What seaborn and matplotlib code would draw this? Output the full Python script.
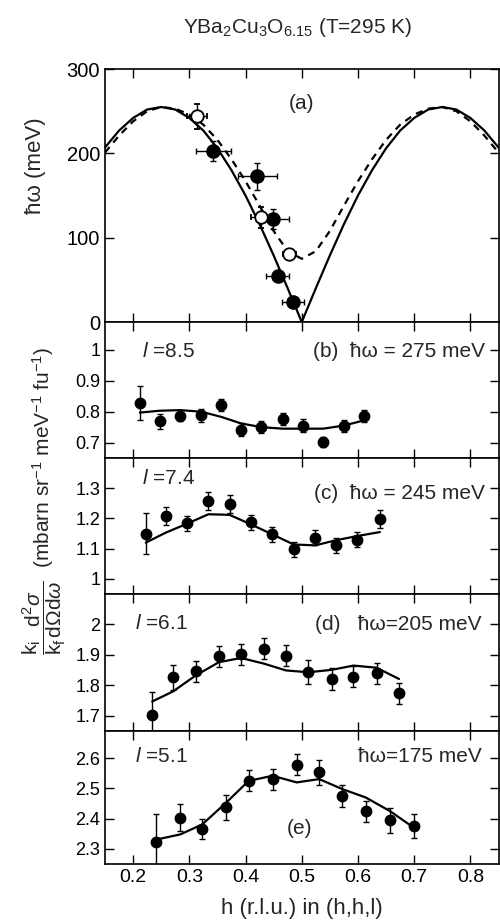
import matplotlib
matplotlib.use('Agg')
import matplotlib.pyplot as plt
import seaborn as sns
import pandas as pd

# --- panel (a): dispersion ---
a_curve_h = [0.150, 0.175, 0.200, 0.225, 0.250, 0.275, 0.300, 0.325, 0.350, 0.375,
             0.400, 0.425, 0.450, 0.475, 0.500, 0.525, 0.550, 0.575, 0.600, 0.625,
             0.650, 0.675, 0.700, 0.725, 0.750, 0.775, 0.800, 0.825, 0.850]
a_solid_E = [207, 227, 242, 252, 255, 252, 242, 227, 206, 180,
             150, 116, 79, 40, 0, 40, 79, 116, 150, 180,
             206, 227, 242, 252, 255, 252, 242, 227, 207]
a_dashed_E = [201, 221, 238, 250, 255, 253, 246, 234, 216, 193,
              167, 138, 108, 84, 75, 84, 108, 138, 167, 193,
              216, 234, 246, 253, 255, 250, 238, 221, 201]

a_filled_h = [0.343, 0.421, 0.448, 0.457, 0.484]
a_filled_E = [203, 173, 122, 55, 24]
a_filled_herr = [0.031, 0.035, 0.030, 0.020, 0.020]
a_filled_Eerr = [12, 16, 12, 5, 4]
a_open_h = [0.313, 0.428, 0.478]
a_open_E = [244, 124, 81]
a_open_herr = [0.018, 0.018, 0.012]
a_open_Eerr = [15, 12, 4]

# --- panels (b)-(e): constant energy scans ---
b_h = [0.212, 0.247, 0.284, 0.321, 0.357, 0.392, 0.428, 0.466, 0.503, 0.538, 0.575, 0.611]
b_v = [0.828, 0.769, 0.787, 0.788, 0.822, 0.742, 0.751, 0.776, 0.755, 0.702, 0.753, 0.785]
b_err = [0.055, 0.025, 0.018, 0.020, 0.020, 0.020, 0.020, 0.020, 0.020, 0.015, 0.020, 0.020]
b_fit = [0.797, 0.803, 0.805, 0.800, 0.783, 0.762, 0.750, 0.745, 0.745, 0.745, 0.755, 0.772]

c_h = [0.2225, 0.258, 0.295, 0.334, 0.3715, 0.409, 0.447, 0.4855, 0.524, 0.561, 0.599, 0.639]
c_v = [1.150, 1.207, 1.184, 1.259, 1.248, 1.187, 1.148, 1.098, 1.137, 1.111, 1.129, 1.198]
c_err = [0.068, 0.030, 0.025, 0.030, 0.030, 0.025, 0.025, 0.025, 0.025, 0.025, 0.025, 0.030]
c_fit = [1.120, 1.153, 1.182, 1.214, 1.212, 1.181, 1.148, 1.114, 1.111, 1.128, 1.142, 1.155]

d_h = [0.234, 0.271, 0.311, 0.3525, 0.392, 0.4335, 0.472, 0.512, 0.5535, 0.592, 0.633, 0.673]
d_v = [1.703, 1.826, 1.846, 1.895, 1.902, 1.920, 1.898, 1.843, 1.821, 1.829, 1.840, 1.774]
d_err = [0.075, 0.040, 0.035, 0.035, 0.035, 0.035, 0.035, 0.040, 0.035, 0.035, 0.035, 0.035]
d_fit = [1.747, 1.780, 1.832, 1.876, 1.890, 1.871, 1.849, 1.843, 1.851, 1.865, 1.858, 1.821]

e_h = [0.2415, 0.284, 0.323, 0.3655, 0.4055, 0.448, 0.491, 0.531, 0.572, 0.614, 0.657, 0.6995]
e_v = [2.322, 2.403, 2.367, 2.437, 2.525, 2.531, 2.578, 2.553, 2.475, 2.425, 2.394, 2.375]
e_err = [0.093, 0.045, 0.033, 0.040, 0.035, 0.035, 0.035, 0.040, 0.035, 0.035, 0.040, 0.040]
e_fit = [2.331, 2.348, 2.381, 2.453, 2.525, 2.542, 2.520, 2.531, 2.498, 2.470, 2.425, 2.370]

x_ticks = [0.2, 0.3, 0.4, 0.5, 0.6, 0.7, 0.8]
x_ticklabels = ['0.2', '0.3', '0.4', '0.5', '0.6', '0.7', '0.8']

scans = [
    dict(h=b_h, v=b_v, err=b_err, fit=b_fit, ylim=(0.65, 1.09),
         yticks=[0.7, 0.8, 0.9, 1.0], ylabels=['0.7', '0.8', '0.9', '1'],
         l_text='$l$ =8.5', l_pos=(0.093, 0.78),
         e_text='(b)  ħω = 275 meV', e_pos=(0.965, 0.78)),
    dict(h=c_h, v=c_v, err=c_err, fit=c_fit, ylim=(0.95, 1.40),
         yticks=[1.0, 1.1, 1.2, 1.3], ylabels=['1', '1.1', '1.2', '1.3'],
         l_text='$l$ =7.4', l_pos=(0.093, 0.85),
         e_text='(c)  ħω = 245 meV', e_pos=(0.965, 0.74)),
    dict(h=d_h, v=d_v, err=d_err, fit=d_fit, ylim=(1.65, 2.10),
         yticks=[1.7, 1.8, 1.9, 2.0], ylabels=['1.7', '1.8', '1.9', '2'],
         l_text='$l$ =6.1', l_pos=(0.076, 0.785),
         e_text='(d)   ħω=205 meV', e_pos=(0.958, 0.775)),
    dict(h=e_h, v=e_v, err=e_err, fit=e_fit, ylim=(2.25, 2.69),
         yticks=[2.3, 2.4, 2.5, 2.6], ylabels=['2.3', '2.4', '2.5', '2.6'],
         l_text='$l$ =5.1', l_pos=(0.076, 0.805),
         e_text='ħω=175 meV', e_pos=(0.958, 0.805)),
]

sns.set_theme(style='ticks')
plt.rcParams['font.family'] = ['Liberation Sans', 'DejaVu Sans']
plt.rcParams['mathtext.fontset'] = 'custom'
plt.rcParams['mathtext.rm'] = 'Liberation Sans'
plt.rcParams['mathtext.it'] = 'Liberation Sans:italic'
plt.rcParams['mathtext.bf'] = 'Liberation Sans:bold'
plt.rcParams['mathtext.sf'] = 'Liberation Sans'

fig = plt.figure(figsize=(5, 9.23), dpi=100)
gs = fig.add_gridspec(5, 1, height_ratios=[253, 136, 136, 137, 133], hspace=0,
                      left=0.21, right=0.997, top=0.9252, bottom=0.0639)
axes = [fig.add_subplot(gs[i]) for i in range(5)]

for ax in axes:
    ax.set_xlim(0.15, 0.85)
    ax.set_xticks(x_ticks)
    ax.tick_params(direction='in', top=True, right=True, length=6.5, width=1.0,
                   colors='black')
    for sp in ax.spines.values():
        sp.set_linewidth(1.2)
        sp.set_color('black')

# panel (a)
ax = axes[0]
curve = pd.DataFrame({'h': a_curve_h, 'solid': a_solid_E, 'dashed': a_dashed_E})
sns.lineplot(data=curve, x='h', y='solid', ax=ax, color='black', lw=1.6,
             estimator=None, sort=False)
sns.lineplot(data=curve, x='h', y='dashed', ax=ax, color='black', lw=1.6,
             estimator=None, sort=False, linestyle=(0, (3.2, 2.6)))
ax.errorbar(a_filled_h, a_filled_E, xerr=a_filled_herr, yerr=a_filled_Eerr,
            fmt='o', color='black', ms=9.5, capsize=2, elinewidth=1, capthick=1,
            zorder=3)
ax.errorbar(a_open_h, a_open_E, xerr=a_open_herr, yerr=a_open_Eerr,
            fmt='o', color='black', mfc='white', mec='black', mew=1.3, ms=9,
            capsize=2, elinewidth=1, capthick=1, zorder=4)
ax.set_ylim(0, 300)
ax.set_yticks([0, 100, 200, 300])
ax.set_yticklabels(['0', '100', '200', '300'], fontsize=14.5)
ax.set_xticklabels([])
ax.set_xlabel('')
ax.set_ylabel('')
ax.text(0.5, 0.864, '(a)', transform=ax.transAxes, ha='center', va='center',
        fontsize=15)

# panels (b)-(e)
for ax, s in zip(axes[1:], scans):
    df = pd.DataFrame({'h': s['h'], 'v': s['v'], 'fit': s['fit']})
    sns.lineplot(data=df, x='h', y='fit', ax=ax, color='black', lw=1.6,
                 estimator=None, sort=False)
    ax.errorbar(s['h'], s['v'], yerr=s['err'], fmt='o', color='black', ms=7.5,
                capsize=2, elinewidth=1, capthick=1, zorder=3)
    ax.set_ylim(*s['ylim'])
    ax.set_yticks(s['yticks'])
    ax.set_yticklabels(s['ylabels'], fontsize=13)
    ax.set_xlabel('')
    ax.set_ylabel('')
    ax.text(*s['l_pos'], s['l_text'], transform=ax.transAxes, ha='left',
            va='center', fontsize=15)
    ax.text(*s['e_pos'], s['e_text'], transform=ax.transAxes, ha='right',
            va='center', fontsize=15)
    if ax is not axes[-1]:
        ax.set_xticklabels([])

axes[-1].set_xticklabels(x_ticklabels, fontsize=14)
axes[-1].text(0.495, 0.268, '(e)', transform=axes[-1].transAxes, ha='center',
              va='center', fontsize=15)
axes[-1].set_xlabel('h (r.l.u.) in (h,h,l)', fontsize=16, labelpad=9)

fig.text(0.07, 0.821, 'ħω (meV)', rotation=90, ha='center', va='center',
         fontsize=16)
fig.text(0.088, 0.457,
         r'$\dfrac{\mathrm{k_i}}{\mathrm{k_f}}\dfrac{\mathrm{d^2}\sigma}{\mathrm{d}\Omega\mathrm{d}\omega}$  '
         r'(mbarn sr$^{-1}$ meV$^{-1}$ fu$^{-1}$)',
         rotation=90, ha='center', va='center', fontsize=15)
fig.text(0.595, 0.970, r'YBa$_2$Cu$_3$O$_{6.15}$ (T=295 K)', ha='center',
         va='center', fontsize=15)

fig.savefig('out.png', dpi=100)
